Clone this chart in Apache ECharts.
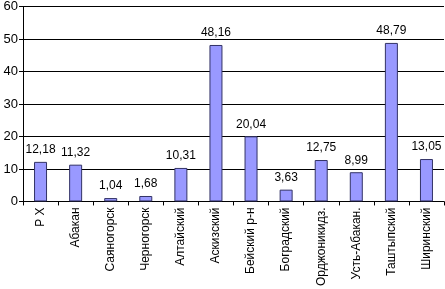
<!DOCTYPE html>
<html>
<head>
<meta charset="utf-8">
<script src="https://cdn.jsdelivr.net/npm/echarts@6/dist/echarts.min.js"></script>
<style>
html,body{margin:0;padding:0;background:#fff;}
#chart{width:445px;height:289px;}
</style>
</head>
<body>
<div id="chart"></div>
<script>
var categories = ['Р Х', 'Абакан', 'Саяногорск', 'Черногорск', 'Алтайский', 'Аскизский',
    'Бейский р-н', 'Боградский', 'Орджоникидз.', 'Усть-Абакан.', 'Таштыпский', 'Ширинский'];
var values = [12.18, 11.32, 1.04, 1.68, 10.31, 48.16, 20.04, 3.63, 12.75, 8.99, 48.79, 13.05];
var yTicks = [0, 10, 20, 30, 40, 50, 60];

var myChart = echarts.init(document.getElementById('chart'));

var option = {
    animation: false,
    grid: {
        left: 23,
        right: 1,
        top: 5,
        bottom: 87
    },
    xAxis: {
        type: 'category',
        data: categories,
        axisLine: { lineStyle: { color: '#000', width: 1 } },
        axisTick: { show: true, alignWithLabel: false, length: 4, lineStyle: { color: '#000' } },
        axisLabel: {
            rotate: 90,
            interval: 0,
            color: '#000',
            fontFamily: 'Liberation Sans, Arial, sans-serif',
            fontSize: 12,
            margin: 6
        }
    },
    yAxis: {
        type: 'value',
        min: yTicks[0],
        max: yTicks[yTicks.length - 1],
        interval: 10,
        axisLine: { show: true, lineStyle: { color: '#000', width: 1 } },
        axisTick: { show: true, length: 4, lineStyle: { color: '#000' } },
        splitLine: { show: true, lineStyle: { color: '#000', width: 1 } },
        axisLabel: {
            color: '#000',
            fontFamily: 'Liberation Sans, Arial, sans-serif',
            fontSize: 13,
            margin: 5
        }
    },
    series: [{
        type: 'bar',
        data: values,
        barWidth: 13,
        itemStyle: {
            color: '#9999ff',
            borderColor: '#333366',
            borderWidth: 1
        },
        label: {
            show: true,
            position: 'top',
            distance: 6,
            color: '#000',
            fontFamily: 'Liberation Sans, Arial, sans-serif',
            fontSize: 12,
            formatter: function (params) {
                return params.value.toFixed(2).replace('.', ',');
            }
        }
    }]
};

myChart.setOption(option, true);
</script>
</body>
</html>
